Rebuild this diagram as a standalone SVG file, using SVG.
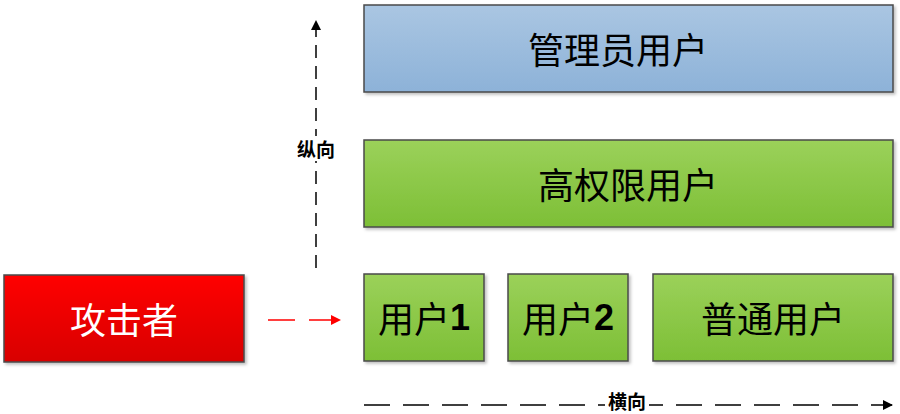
<svg xmlns="http://www.w3.org/2000/svg" width="900" height="414" viewBox="0 0 900 414">
<style>
.box{stroke:#4a4a4a;stroke-width:1.5}
.t{font-family:"Noto Sans CJK SC","Liberation Serif",serif;font-size:36px;text-anchor:middle;dominant-baseline:central}
.lbl{font-family:"Noto Sans CJK SC",sans-serif;font-size:19px;font-weight:bold;text-anchor:middle;dominant-baseline:central;fill:#000}
.ax{stroke:#000;stroke-width:1.5;fill:none}
</style>
<defs>
<linearGradient id="gb" x1="0" y1="0" x2="0" y2="1"><stop offset="0" stop-color="#aac6e2"/><stop offset="1" stop-color="#8db2d8"/></linearGradient>
<linearGradient id="gg" x1="0" y1="0" x2="0" y2="1"><stop offset="0" stop-color="#9bd15a"/><stop offset="1" stop-color="#7dbf36"/></linearGradient>
<linearGradient id="gr" x1="0" y1="0" x2="0" y2="1"><stop offset="0" stop-color="#ff0000"/><stop offset="1" stop-color="#d80000"/></linearGradient>
<filter id="sh" x="-5%" y="-5%" width="110%" height="120%"><feDropShadow dx="2" dy="2" stdDeviation="1.5" flood-color="#000" flood-opacity="0.25"/></filter>
<marker id="ab" viewBox="0 0 10 10" refX="9" refY="5" markerWidth="10" markerHeight="10" markerUnits="userSpaceOnUse" orient="auto"><path d="M0,0 L10,5 L0,10 z" fill="#000"/></marker>
<marker id="ar" viewBox="0 0 10 10" refX="9" refY="5" markerWidth="10" markerHeight="10" markerUnits="userSpaceOnUse" orient="auto"><path d="M0,0 L10,5 L0,10 z" fill="#f00"/></marker>
</defs>
<g id="connectors">
<line class="ax" x1="316" y1="268" x2="316" y2="21" stroke-dasharray="13 8" marker-end="url(#ab)"/>
<rect x="294" y="136" width="44" height="25" fill="#fff"/>
<text class="lbl" x="316" y="148">纵向</text>
<line class="ax" x1="364" y1="405" x2="892" y2="405" stroke-dasharray="26 13" marker-end="url(#ab)"/>
<rect x="605" y="391" width="44" height="23" fill="#fff"/>
<text class="lbl" x="627" y="400" font-size="17">横向</text>
<line x1="268" y1="320" x2="340" y2="320" stroke="#f00" stroke-width="1.5" stroke-dasharray="27 14" marker-end="url(#ar)"/>
</g>
<g id="admin"><rect class="box" x="364" y="5" width="529" height="87" fill="url(#gb)" filter="url(#sh)"/><text class="t" x="618" y="48">管理员用户</text></g>
<g id="high"><rect class="box" x="364" y="140" width="529" height="87" fill="url(#gg)" filter="url(#sh)"/><text class="t" x="628" y="183">高权限用户</text></g>
<g id="user1"><rect class="box" x="364" y="274" width="120" height="87" fill="url(#gg)" filter="url(#sh)"/><text class="t" x="424" y="317">用户<tspan font-family="Liberation Sans" font-weight="bold">1</tspan></text></g>
<g id="user2"><rect class="box" x="508" y="274" width="120" height="87" fill="url(#gg)" filter="url(#sh)"/><text class="t" x="568" y="317">用户<tspan font-family="Liberation Sans" font-weight="bold">2</tspan></text></g>
<g id="normal"><rect class="box" x="653" y="274" width="240" height="87" fill="url(#gg)" filter="url(#sh)"/><text class="t" x="773" y="317">普通用户</text></g>
<g id="attacker"><rect class="box" x="4" y="275" width="240" height="87" fill="url(#gr)" filter="url(#sh)"/><text class="t" x="124" y="318" fill="#fff">攻击者</text></g>
</svg>
